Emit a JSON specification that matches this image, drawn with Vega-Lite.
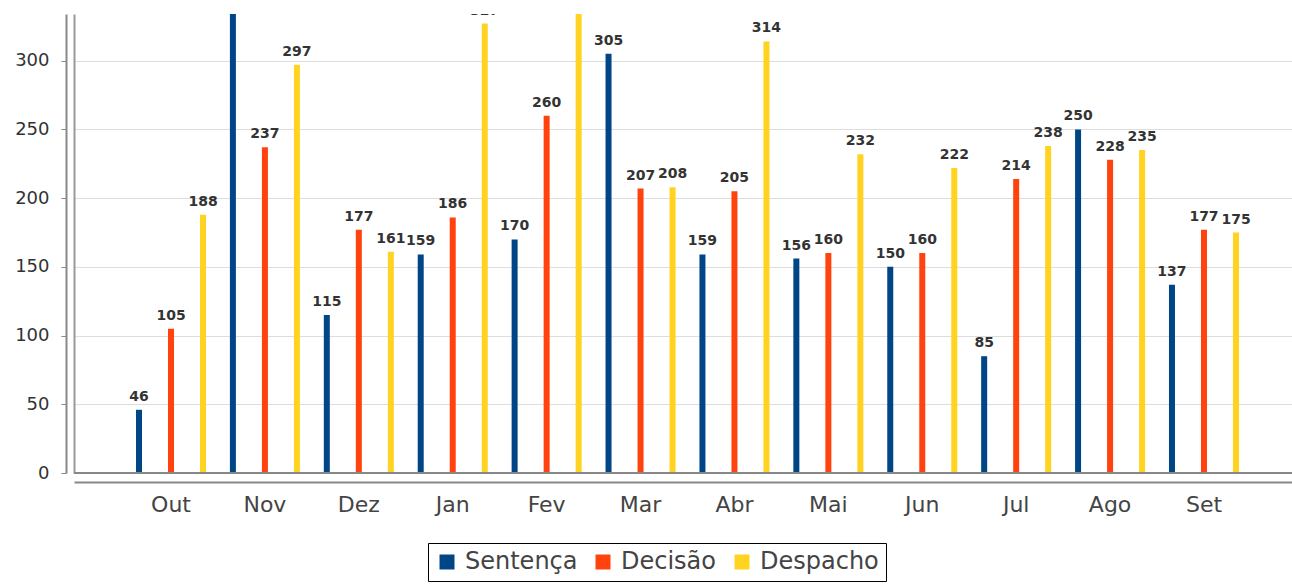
{
  "$schema": "https://vega.github.io/schema/vega-lite/v6.json",
  "autosize": "none",
  "padding": {"left": 74, "top": 14, "right": 0, "bottom": 112},
  "width": 1227,
  "height": 459,
  "background": "white",
  "config": {
    "view": {"stroke": null},
    "font": "DejaVu Sans"
  },
  "datasets": {
    "bars": [
      {"mes": "Out", "tipo": "Sentença", "valor": 46},
      {"mes": "Out", "tipo": "Decisão", "valor": 105},
      {"mes": "Out", "tipo": "Despacho", "valor": 188},
      {"mes": "Nov", "tipo": "Sentença", "valor": 360},
      {"mes": "Nov", "tipo": "Decisão", "valor": 237},
      {"mes": "Nov", "tipo": "Despacho", "valor": 297},
      {"mes": "Dez", "tipo": "Sentença", "valor": 115},
      {"mes": "Dez", "tipo": "Decisão", "valor": 177},
      {"mes": "Dez", "tipo": "Despacho", "valor": 161},
      {"mes": "Jan", "tipo": "Sentença", "valor": 159},
      {"mes": "Jan", "tipo": "Decisão", "valor": 186},
      {"mes": "Jan", "tipo": "Despacho", "valor": 327},
      {"mes": "Fev", "tipo": "Sentença", "valor": 170},
      {"mes": "Fev", "tipo": "Decisão", "valor": 260},
      {"mes": "Fev", "tipo": "Despacho", "valor": 350},
      {"mes": "Mar", "tipo": "Sentença", "valor": 305},
      {"mes": "Mar", "tipo": "Decisão", "valor": 207},
      {"mes": "Mar", "tipo": "Despacho", "valor": 208},
      {"mes": "Abr", "tipo": "Sentença", "valor": 159},
      {"mes": "Abr", "tipo": "Decisão", "valor": 205},
      {"mes": "Abr", "tipo": "Despacho", "valor": 314},
      {"mes": "Mai", "tipo": "Sentença", "valor": 156},
      {"mes": "Mai", "tipo": "Decisão", "valor": 160},
      {"mes": "Mai", "tipo": "Despacho", "valor": 232},
      {"mes": "Jun", "tipo": "Sentença", "valor": 150},
      {"mes": "Jun", "tipo": "Decisão", "valor": 160},
      {"mes": "Jun", "tipo": "Despacho", "valor": 222},
      {"mes": "Jul", "tipo": "Sentença", "valor": 85},
      {"mes": "Jul", "tipo": "Decisão", "valor": 214},
      {"mes": "Jul", "tipo": "Despacho", "valor": 238},
      {"mes": "Ago", "tipo": "Sentença", "valor": 250},
      {"mes": "Ago", "tipo": "Decisão", "valor": 228},
      {"mes": "Ago", "tipo": "Despacho", "valor": 235},
      {"mes": "Set", "tipo": "Sentença", "valor": 137},
      {"mes": "Set", "tipo": "Decisão", "valor": 177},
      {"mes": "Set", "tipo": "Despacho", "valor": 175}
    ],
    "base": [{"v": 0}]
  },
  "layer": [
    {
      "data": {"name": "bars"},
      "encoding": {
        "x": {
          "field": "mes", "type": "nominal", "sort": null,
          "scale": {"paddingInner": 0, "paddingOuter": 0.533},
          "axis": {
            "title": null, "labelAngle": 0, "labelFontSize": 22, "labelColor": "#444444",
            "labelPadding": 12, "ticks": false, "domainColor": "#888888", "domainWidth": 2,
            "offset": 9, "grid": false
          }
        },
        "xOffset": {
          "field": "tipo", "type": "nominal",
          "sort": ["Sentença", "Decisão", "Despacho"],
          "scale": {"paddingInner": 0.8125, "paddingOuter": 0.373}
        },
        "y": {
          "field": "valor", "type": "quantitative",
          "scale": {"domain": [0, 334], "nice": false, "zero": true},
          "axis": {
            "title": null, "values": [0, 50, 100, 150, 200, 250, 300],
            "labelFontSize": 18, "labelColor": "#333333", "labelPadding": 12,
            "tickSize": 5, "tickColor": "#888888", "domainColor": "#888888", "domainWidth": 2,
            "offset": 8, "grid": true, "gridColor": "#dddddd"
          }
        }
      },
      "layer": [
        {
          "mark": {"type": "bar", "clip": true},
          "encoding": {
            "color": {
              "field": "tipo", "type": "nominal",
              "scale": {"domain": ["Sentença", "Decisão", "Despacho"], "range": ["#004586", "#ff420e", "#ffd320"]},
              "legend": {
                "title": null, "orient": "none", "legendX": 354, "legendY": 529,
                "direction": "horizontal", "strokeColor": "#000000", "padding": 7,
                "symbolType": "square", "symbolSize": 225, "symbolStrokeWidth": 0,
                "labelFontSize": 24, "labelColor": "#444444", "columnPadding": 13, "labelOffset": 6
              }
            }
          }
        },
        {
          "mark": {"type": "text", "clip": true, "dy": -13, "fontSize": 14, "fontWeight": "bold", "color": "#333333"},
          "encoding": {"text": {"field": "valor", "type": "quantitative"}}
        }
      ]
    },
    {
      "data": {"name": "base"},
      "mark": {"type": "rule", "color": "#888888", "strokeWidth": 2},
      "encoding": {
        "y": {"field": "v", "type": "quantitative", "axis": {"orient": "left", "labels": false, "ticks": false, "grid": false, "title": null, "domainColor": "#999999", "domainWidth": 2, "offset": 0}}
      }
    }
  ],
  "resolve": {"scale": {"y": "shared"}, "axis": {"y": "independent"}}
}
